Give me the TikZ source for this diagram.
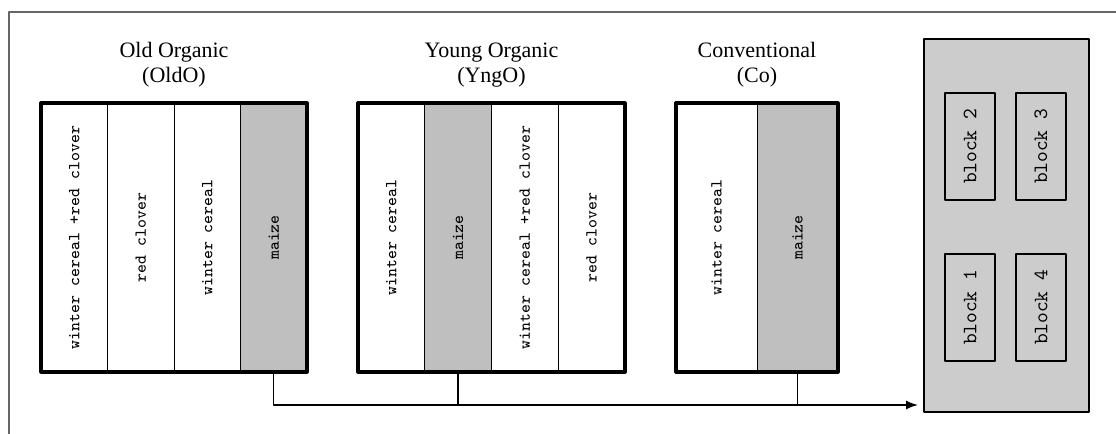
\documentclass[tikz,border=0pt]{standalone}
\usepackage{fontspec}
\setmainfont{Liberation Serif}
\usetikzlibrary{positioning,fit,arrows.meta}
\definecolor{maizegray}{gray}{0.75}
\definecolor{panelgray}{gray}{0.8}
\tikzset{
  strip/.style={draw, line width=0.5pt, outer sep=0pt, inner sep=0pt, minimum height=134.5pt},
  croplabel/.style={rotate=90, font=\ttfamily\fontsize{8.4}{10}\selectfont},
  field/.style={draw, line width=1.6pt, inner sep=0pt},
  fieldtitle/.style={align=center, font=\fontsize{11}{12.5}\selectfont, inner sep=0pt},
  blockbox/.style={draw, line width=0.7pt, rotate=90, minimum width=53.5pt, minimum height=25pt, inner sep=0pt, font=\ttfamily\fontsize{10.2}{12}\selectfont},
}
\begin{document}
\begin{tikzpicture}[x=0.5pt, y=0.5pt, line join=round, >={Latex[length=6pt,width=4.5pt]}]
	\useasboundingbox (0,0) rectangle (1116,434);
	% frame
	\draw[line width=0.7pt, black!60] (9,0) -- (9,422) -- (1116,422);
	% old organic
	\foreach \i/\fc/\crop in {1/white/{winter cereal +red clover}, 2/white/red clover, 3/white/winter cereal, 4/maizegray/maize}{
		\node[strip, fill=\fc, minimum width=33.25pt, anchor=south west] (oldo\i) at ({41+66.5*(\i-1)},62) {};
		\node[croplabel] at (oldo\i) {\crop};}
	\node[field, fit=(oldo1)(oldo4)] (oldo) {};
	\node[fieldtitle, above=7pt of oldo] (oldoT) {Old Organic\\(OldO)};
	% young organic
	\foreach \i/\fc/\crop in {1/white/winter cereal, 2/maizegray/maize, 3/white/{winter cereal +red clover}, 4/white/red clover}{
		\node[strip, fill=\fc, minimum width=33.375pt, anchor=south west] (yngo\i) at ({358+66.75*(\i-1)},62) {};
		\node[croplabel] at (yngo\i) {\crop};}
	\node[field, fit=(yngo1)(yngo4)] (yngo) {};
	\node[fieldtitle, above=7pt of yngo] (yngoT) {Young Organic\\(YngO)};
	% conventional
	\foreach \i/\fc/\crop in {1/white/winter cereal, 2/maizegray/maize}{
		\node[strip, fill=\fc, minimum width=40.5pt, anchor=south west] (co\i) at ({676+81*(\i-1)},62) {};
		\node[croplabel] at (co\i) {\crop};}
	\node[field, fit=(co1)(co2)] (co) {};
	\node[fieldtitle, above=7pt of co] (coT) {Conventional\\(Co)};
	% blocks
	\node[draw, line width=1pt, fill=panelgray, minimum width=82.5pt, minimum height=186.5pt, anchor=south west] (panel) at (923,21) {};
	\node[blockbox] (block2) at (970,287.5) {block 2};
	\node[blockbox] (block3) at (1041,287.5) {block 3};
	\node[blockbox] (block1) at (970,126.5) {block 1};
	\node[blockbox] (block4) at (1041,126.5) {block 4};
	% maize samples
	\coordinate (inlet) at ([yshift=4pt]panel.south west);
	\draw[line width=0.7pt, ->, shorten >=2.5pt] (oldo4.south) |- (inlet);
	\draw[line width=0.7pt] (yngo2.south) -- (yngo2.south |- inlet);
	\draw[line width=0.7pt] (co2.south) -- (co2.south |- inlet);
\end{tikzpicture}
\end{document}
